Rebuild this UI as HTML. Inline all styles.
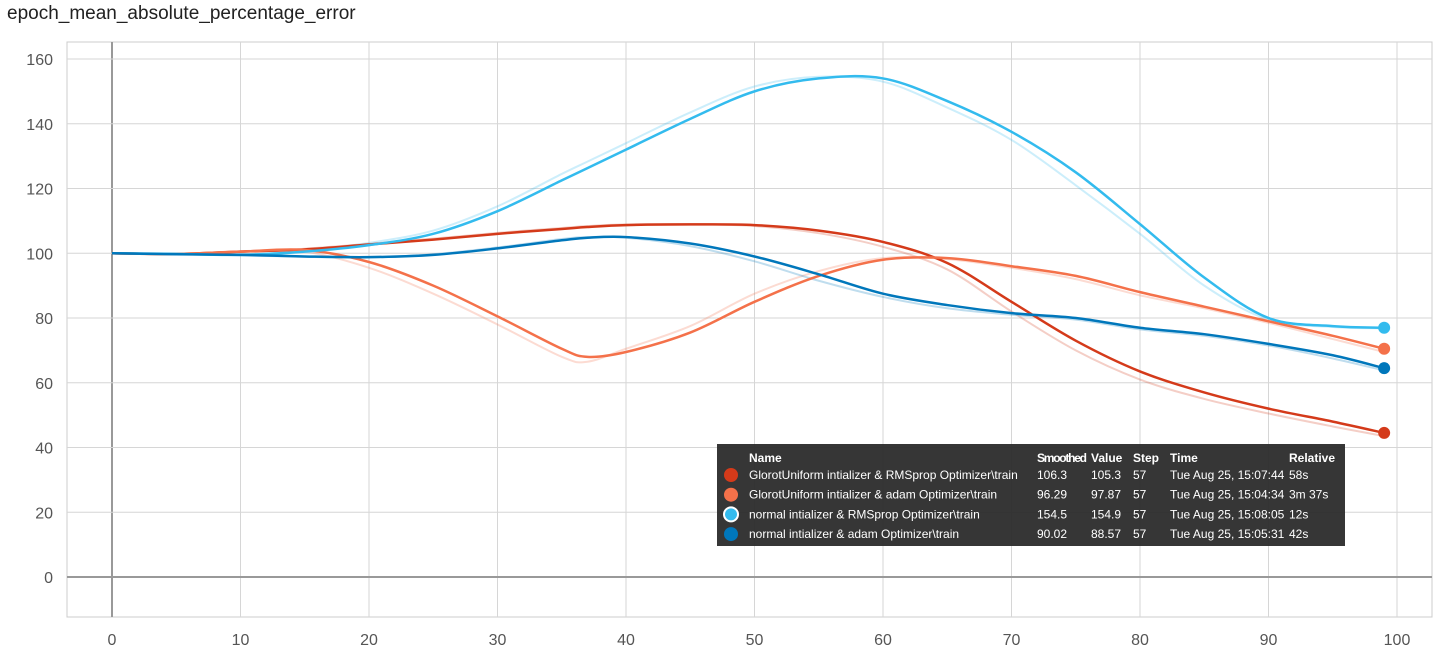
<!DOCTYPE html>
<html><head><meta charset="utf-8"><style>
body{margin:0;background:#fff;font-family:"Liberation Sans",Roboto,sans-serif}
#wrap{position:relative;width:1450px;height:655px;overflow:hidden}
#title{position:absolute;left:7px;top:3px;font-size:19px;color:#212121}
</style></head><body>
<div id="wrap">
<div id="title">epoch_mean_absolute_percentage_error</div>
<svg id="chart" width="1450" height="655" style="position:absolute;left:0;top:0"></svg>
</div>
<script>
const epochs=[0,5,10,15,20,25,30,35,37,40,45,50,55,60,65,70,75,80,85,90,95,99];
const redSmooth=[100,99.8,100.5,101.2,102.7,104.2,106,107.5,108.1,108.7,108.9,108.7,107,103.5,97,85,73,63.5,57,52,48,44.5];
const redRaw=[100,99.7,100.6,101.4,102.9,104.5,106.3,107.8,108.4,108.9,109,108.4,106.2,102,95,82,70,61,55,50.5,46.5,43.5];
const orangeSmooth=[100,99.8,100.5,101,97.3,90,80.5,70.5,68,69.5,75.5,85,93,98,98.5,96,93,88,83.5,79,74.5,70.5];
const orangeRaw=[100,99.7,100.6,100.5,95.5,87.5,78,68,66.5,70.5,77.5,87.5,94.5,98.5,98.2,95.5,92,87,83,78.5,73.5,69.5];
const lblueSmooth=[100,99.8,99.5,100.5,102.5,106,113,122.5,126.3,132,141.5,150,154,154,147,137.5,125,109,92.5,80,77.5,77];
const lblueRaw=[100,99.8,99.6,100.8,103.2,107,114.5,124.5,128.3,134,143.5,151.5,154.5,153,145,135,121,106,90,79.5,77.2,76.8];
const dblueSmooth=[100,99.7,99.5,99,98.8,99.5,101.5,104,104.8,105,103,99,93.5,87.5,84,81.5,80,77,75,72,68.5,64.5];
const dblueRaw=[100,99.7,99.4,98.9,98.7,99.7,101.8,104.4,105,104.8,102.2,97.5,91.5,86.5,83,81,79.5,76.5,74.5,71.5,67.5,63.8];
const xTicks=[0,10,20,30,40,50,60,70,80,90,100];
const yTicks=[0,20,40,60,80,100,120,140,160];
const rows=[["#d43a1a","GlorotUniform intializer & RMSprop Optimizer\\train","106.3","105.3","57","Tue Aug 25, 15:07:44","58s"],
["#f4714a","GlorotUniform intializer & adam Optimizer\\train","96.29","97.87","57","Tue Aug 25, 15:04:34","3m 37s"],
["#33bbee","normal intializer & RMSprop Optimizer\\train","154.5","154.9","57","Tue Aug 25, 15:08:05","12s"],
["#0077bb","normal intializer & adam Optimizer\\train","90.02","88.57","57","Tue Aug 25, 15:05:31","42s"]];
const ns="http://www.w3.org/2000/svg";
const svg=document.getElementById('chart');
const X=v=>112+v*12.85;
const Y=v=>577-v*3.2375;
function mk(t,a,p){const e=document.createElementNS(ns,t);for(const k in a)e.setAttribute(k,a[k]);(p||svg).appendChild(e);return e;}
const frame=mk('rect',{x:67,y:42,width:1365,height:575,fill:'none',stroke:'#ccc'});


xTicks.forEach(t=>{
 const l=mk('line',{x1:X(t),x2:X(t),y1:42,y2:617,stroke:t===0?'#999':'#d6d6d6','stroke-width':t===0?2:1});
 
 
 const tx=mk('text',{x:X(t),y:645,'text-anchor':'middle','font-size':16,fill:'#555'});tx.textContent=t;
 
 
});
yTicks.forEach(t=>{
 const l=mk('line',{x1:67,x2:1432,y1:Y(t),y2:Y(t),stroke:t===0?'#999':'#d6d6d6','stroke-width':t===0?2:1});
 
 
 const tx=mk('text',{x:53,y:Y(t)+6,'text-anchor':'end','font-size':16,fill:'#555'});tx.textContent=t;
 
 
});
function path(vals){
 const p=epochs.map((e,i)=>[X(e),Y(vals[i])]);
 let d='M'+p[0][0]+','+p[0][1];
 for(let i=0;i<p.length-1;i++){
  const p0=p[Math.max(0,i-1)],p1=p[i],p2=p[i+1],p3=p[Math.min(p.length-1,i+2)];
  const c1=[p1[0]+(p2[0]-p0[0])/6,p1[1]+(p2[1]-p0[1])/6];
  const c2=[p2[0]-(p3[0]-p1[0])/6,p2[1]-(p3[1]-p1[1])/6];
  d+=`C${c1[0]},${c1[1]} ${c2[0]},${c2[1]} ${p2[0]},${p2[1]}`;
 }
 return d;
}
const series=[["red",redRaw,redSmooth,"#d43a1a"],["orange",orangeRaw,orangeSmooth,"#f4714a"],["light-blue",lblueRaw,lblueSmooth,"#33bbee"],["dark-blue",dblueRaw,dblueSmooth,"#0077bb"]];
series.forEach(s=>{
 const r=mk('path',{d:path(s[1]),fill:'none',stroke:s[3],'stroke-width':2,'stroke-opacity':0.25});
 
 
});
series.forEach(s=>{
 const r=mk('path',{d:path(s[2]),fill:'none',stroke:s[3],'stroke-width':2.5});
 
 
 const c=mk('circle',{cx:X(epochs[epochs.length-1]),cy:Y(s[2][s[2].length-1]),r:6,fill:s[3]});
 
 
});
const g=mk('g',{});


mk('rect',{x:717,y:444,width:628,height:102,fill:'#2b2b2b','fill-opacity':0.95},g);
const cols=[749,1037,1091,1133,1170,1289];
const hdr=["Name","Smoothed","Value","Step","Time","Relative"];
hdr.forEach((h,i)=>{const t=mk('text',{x:cols[i],y:462,'font-size':12,'font-weight':'bold',fill:'#fff',textLength:i===1?50:null},g);t.textContent=h;
 if(i!==1)t.removeAttribute('textLength');
 
 });
rows.forEach((r,j)=>{
 const y=475+j*19.7;
 const c=mk('circle',{cx:731,cy:y,r:7,fill:r[0],stroke:j===2?'#fff':'none','stroke-width':2},g);
 
 
 for(let i=1;i<7;i++){const t=mk('text',{x:cols[i-1],y:y+4,'font-size':12,fill:'#fff'},g);t.textContent=r[i];
  
  }
});
</script>
</body></html>
